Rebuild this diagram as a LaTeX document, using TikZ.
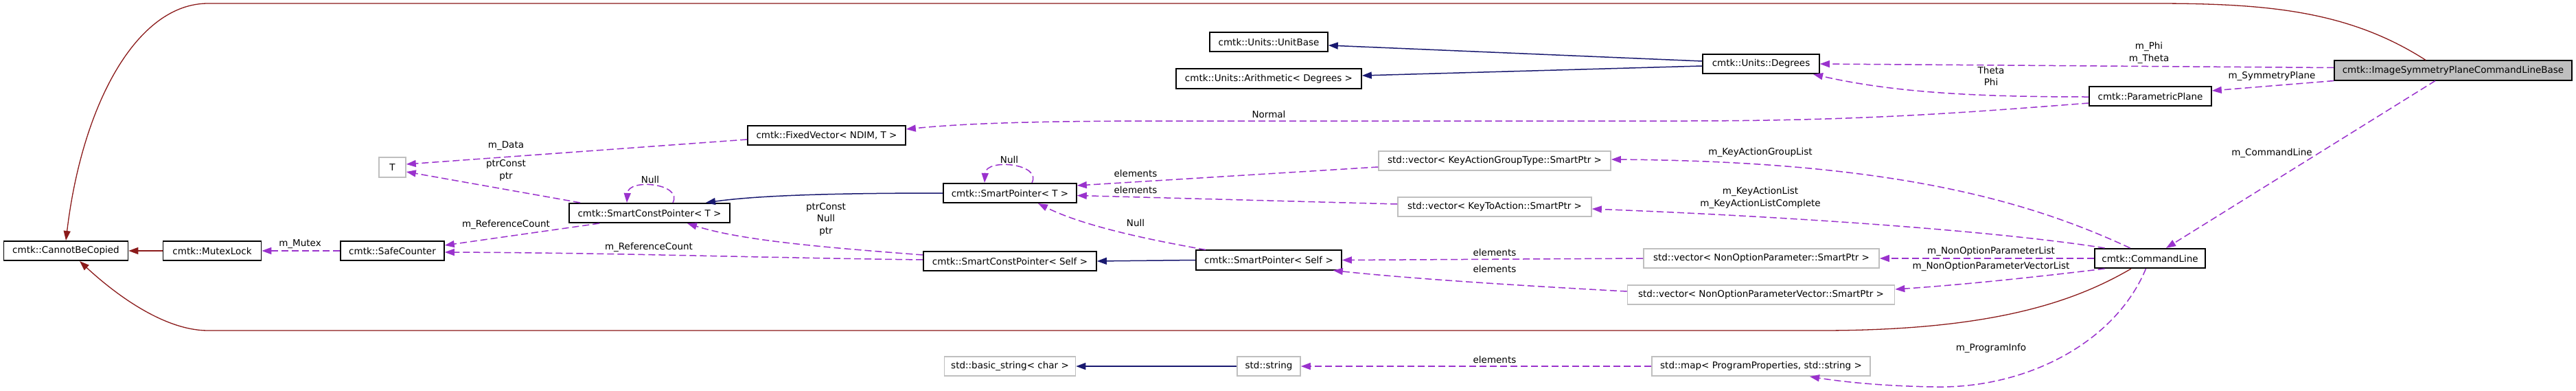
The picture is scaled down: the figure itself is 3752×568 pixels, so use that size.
\documentclass[tikz,border=0pt]{standalone}
\usepackage{fontspec}
\setmainfont{DejaVu Sans}
\usetikzlibrary{arrows.meta}
\definecolor{edgeuse}{HTML}{9A32CD}
\definecolor{edgeinh}{HTML}{191970}
\definecolor{edgecpy}{HTML}{8B1A1A}
\definecolor{boxgray}{HTML}{BFBFBF}
\begin{document}
\begin{tikzpicture}[x=1pt, y=-1pt, font=\fontsize{13.5}{17.5}\selectfont,
  cls/.style={draw, line width=1.6pt, minimum height=28.5pt, inner xsep=4pt, inner ysep=0pt},
  ext/.style={cls, draw=boxgray},
  main/.style={cls, fill=boxgray},
  lbl/.style={align=center, inner sep=0pt},
  use/.style={draw=edgeuse, line width=1.5pt, dash pattern=on 10pt off 5pt, -{Triangle[length=14pt,width=10pt]}},
  inh/.style={draw=edgeinh, line width=1.5pt, -{Triangle[length=14pt,width=10pt]}},
  cpy/.style={draw=edgecpy, line width=1.3pt, -{Triangle[length=14pt,width=10pt]}}]
  \fill[white] (0,0) rectangle (3752,568);

  \node[cls, minimum width=181pt] (cbc) at (96,365) {cmtk::CannotBeCopied};
  \node[cls, minimum width=143pt] (mutex) at (309,365) {cmtk::MutexLock};
  \node[cls, minimum width=151pt] (safecnt) at (571.5,365) {cmtk::SafeCounter};
  \node[ext, minimum width=39pt, minimum height=29pt] (tparam) at (571.5,243.5) {T};
  \node[cls, minimum width=234pt] (scpT) at (946,310) {cmtk::SmartConstPointer< T >};
  \node[cls, minimum width=230pt] (fixvec) at (1204,197) {cmtk::FixedVector< NDIM, T >};
  \node[cls, minimum width=172pt] (unitbase) at (1848,61) {cmtk::Units::UnitBase};
  \node[cls, minimum width=270pt] (arith) at (1848,114.5) {cmtk::Units::Arithmetic< Degrees >};
  \node[cls, minimum width=170pt] (degrees) at (2565,93) {cmtk::Units::Degrees};
  \node[cls, minimum width=194pt] (spT) at (1471,281) {cmtk::SmartPointer< T >};
  \node[ext, minimum width=338pt] (vecKAG) at (2177,234) {std::vector< KeyActionGroupType::SmartPtr >};
  \node[ext, minimum width=282pt] (vecKTA) at (2177,301) {std::vector< KeyToAction::SmartPtr >};
  \node[cls, minimum width=252pt] (scpSelf) at (1471,380) {cmtk::SmartConstPointer< Self >};
  \node[cls, minimum width=212pt] (spSelf) at (1848,378.5) {cmtk::SmartPointer< Self >};
  \node[ext, minimum width=343pt] (vecNOP) at (2565.5,376) {std::vector< NonOptionParameter::SmartPtr >};
  \node[ext, minimum width=389pt] (vecNOPV) at (2565,429) {std::vector< NonOptionParameterVector::SmartPtr >};
  \node[ext, minimum width=191pt] (basicstr) at (1471,533) {std::basic\_string< char >};
  \node[ext, minimum width=92pt] (stdstr) at (1848,533) {std::string};
  \node[ext, minimum width=318pt] (progmap) at (2565,533) {std::map< ProgramProperties, std::string >};
  \node[main, minimum width=346pt] (ispclb) at (3573,102.5) {cmtk::ImageSymmetryPlaneCommandLineBase};
  \node[cls, minimum width=178pt] (plane) at (3132,140) {cmtk::ParametricPlane};
  \node[cls, minimum width=161pt] (cmdline) at (3131.5,376) {cmtk::CommandLine};

  \draw[cpy] ([xshift=-40pt]ispclb.north) .. controls (3420,15) and (3300,5) .. (3138,5) -- (303,5)
    .. controls (200,5) and (120,150) .. (cbc.north);
  \draw[cpy] ([xshift=-27.5pt]cmdline.south) .. controls (3020,440) and (2900,481) .. (2652,481) -- (303,481)
    .. controls (240,481) and (170,430) .. ([xshift=20pt]cbc.south);
  \draw[cpy] (mutex.west) -- (cbc.east);

  \draw[use] (safecnt.west) -- (mutex.east);
  \draw[use] ([xshift=-73pt]scpT.south) -- ([yshift=8pt]safecnt.east);
  \draw[use] ([yshift=2pt]scpSelf.west) .. controls (1100,375) and (900,368) .. ([yshift=-2pt]safecnt.east);
  \draw[use] ([xshift=-101pt]scpT.north) -- ([yshift=-6.5pt]tparam.east);
  \draw[use] ([yshift=-6pt]fixvec.west) -- ([yshift=4.5pt]tparam.east);
  \draw[use] ([xshift=34pt]scpT.north) .. controls +(15,-28) and +(2,-36) .. ([xshift=-33pt]scpT.north);
  \draw[inh] (spT.west) .. controls (1200,281) and (1100,285) .. ([xshift=82pt]scpT.north);
  \draw[use] ([yshift=9pt]scpSelf.west) .. controls (1200,360) and (1080,350) .. ([xshift=55pt]scpT.south);
  \draw[use] ([xshift=32pt]spT.north) .. controls +(15,-28) and +(2,-36) .. ([xshift=-37pt]spT.north);
  \draw[use] ([yshift=-9pt]vecKAG.west) -- ([yshift=11pt]spT.east);
  \draw[use] ([yshift=4pt]vecKTA.west) -- ([yshift=-3.5pt]spT.east);
  \draw[use] ([xshift=-92pt]spSelf.north) .. controls (1680,350) and (1580,330) .. ([xshift=41pt]spT.south);
  \draw[inh] (spSelf.west) -- (scpSelf.east);
  \draw[use] (vecNOP.west) -- (spSelf.east);
  \draw[use] ([yshift=5pt]vecNOPV.west) .. controls (2200,415) and (2050,405) .. ([xshift=-13pt]spSelf.south east);
  \draw[inh] (stdstr.west) -- (basicstr.east);
  \draw[use] (progmap.west) -- (stdstr.east);
  \draw[inh] ([yshift=4pt]degrees.west) -- ([yshift=-5pt]unitbase.east);
  \draw[inh] ([yshift=-3pt]degrees.west) -- ([yshift=4.5pt]arith.east);
  \draw[use] ([yshift=-10pt]plane.west) .. controls (2850,165) and (2700,176) .. (2450,176) -- (1700,176)
    .. controls (1500,176) and (1400,180) .. ([yshift=9pt]fixvec.east);
  \draw[use] ([yshift=-1pt]plane.west) .. controls (2880,141) and (2760,135) .. ([xshift=76pt]degrees.south);
  \draw[use] ([yshift=4pt]ispclb.west) -- (degrees.east);
  \draw[use] (ispclb.south west) -- ([yshift=8pt]plane.east);
  \draw[use] ([xshift=-26pt]ispclb.south) -- ([xshift=23.5pt]cmdline.north);
  \draw[use] ([xshift=-29pt]cmdline.north) .. controls (2950,290) and (2750,235) .. ([yshift=2pt]vecKAG.east);
  \draw[use] ([xshift=-66pt]cmdline.north) .. controls (2900,335) and (2600,315) .. ([yshift=-3pt]vecKTA.east);
  \draw[use] (cmdline.west) -- (vecNOP.east);
  \draw[use] ([xshift=-66pt]cmdline.south) .. controls (2950,405) and (2850,415) .. ([yshift=8pt]vecNOPV.east);
  \draw[use] ([xshift=-6pt]cmdline.south) .. controls (3080,500) and (2950,565) .. (2820,563)
    .. controls (2740,562) and (2680,555) .. ([xshift=71pt]progmap.south);

  \node[lbl] (lmutex) at (437,355) {m\_Mutex};
  \node[lbl] (lrefT) at (737,327) {m\_ReferenceCount};
  \node[lbl] (lrefS) at (945,360) {m\_ReferenceCount};
  \node[lbl] (lptrT) at (737,248) {ptrConst\\ptr};
  \node[lbl] (ldata) at (737,212) {m\_Data};
  \node[lbl] (lnullT) at (947,261) {Null};
  \node[lbl] (lptrS) at (1203,319) {ptrConst\\Null\\ptr};
  \node[lbl] (lnullP) at (1470,232) {Null};
  \node[lbl] (lelemA) at (1654,252) {elements};
  \node[lbl] (lelemB) at (1654,276) {elements};
  \node[lbl] (lnullS) at (1654,324) {Null};
  \node[lbl] (lelemC) at (2177,367) {elements};
  \node[lbl] (lelemD) at (2177,391) {elements};
  \node[lbl] (lelemE) at (2177,523) {elements};
  \node[lbl] (lnormal) at (1848,166) {Normal};
  \node[lbl] (langle) at (2900,111) {Theta\\Phi};
  \node[lbl] (lphi) at (3130,77) {m\_Phi\\m\_Theta};
  \node[lbl] (lplane) at (3309,111) {m\_SymmetryPlane};
  \node[lbl] (lcmd) at (3309,223) {m\_CommandLine};
  \node[lbl] (lkag) at (2564,222) {m\_KeyActionGroupList};
  \node[lbl] (lkta) at (2564,288) {m\_KeyActionList\\m\_KeyActionListComplete};
  \node[lbl] (lnop) at (2900,366) {m\_NonOptionParameterList};
  \node[lbl] (lnopv) at (2900,388) {m\_NonOptionParameterVectorList};
  \node[lbl] (linfo) at (2900,507) {m\_ProgramInfo};
\end{tikzpicture}
\end{document}
